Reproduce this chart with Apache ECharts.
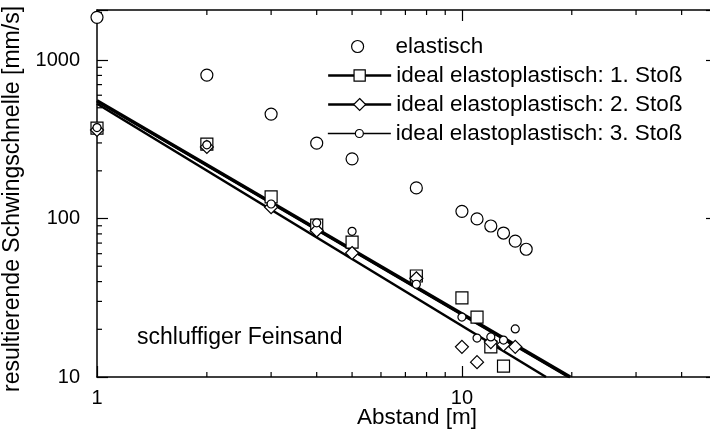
<!DOCTYPE html>
<html><head><meta charset="utf-8">
<script src="https://cdn.jsdelivr.net/npm/echarts@6/dist/echarts.min.js"></script>
<style>html,body{margin:0;padding:0;background:#fff}#c{width:710px;height:432px}</style>
</head><body><div id="c"></div>
<script>
const FONT = '"Liberation Sans", Arial, Helvetica, sans-serif';

// Measured values (Abstand [m] / resultierende Schwingschnelle [mm/s])
const xElastisch = [1, 2, 3, 4, 5, 7.5, 10, 11, 12, 13, 14, 15];
const yElastisch = [1860, 804, 456, 299, 238, 156, 111, 99.5, 89.7, 81, 72, 64];
const xStoss1 = [1, 2, 3, 4, 5, 7.5, 10, 11, 12, 13];
const yStoss1 = [372, 295, 137, 91, 71, 43.4, 31.6, 23.9, 15.5, 11.7];
const xStoss2 = [1, 2, 3, 4, 5, 7.5, 10, 11, 12, 13, 14];
const yStoss2 = [362, 283, 118, 84, 60.6, 42, 15.5, 12.4, 16.6, 16.0, 15.5];
const xStoss3 = [1, 2, 3, 4, 5, 7.5, 10, 11, 12, 13, 14];
const yStoss3 = [375, 292, 123.5, 94, 83, 38.5, 23.9, 17.6, 17.9, 17.1, 20.1];

// Regression lines (end points)
const fit1X = [1, 19.8], fit1Y = [555, 10];
const fit2X = [1, 17.0], fit2Y = [530, 10];
const fit3X = [1, 19.5], fit3Y = [545, 10];

// Axis ranges and minor tick values
const X_MIN = 1, X_MAX = 50, Y_MIN = 10, Y_MAX = 2070;
const xMinorTicks = [2, 3, 4, 5, 6, 7, 8, 9, 20, 30, 40];
const yMinorTicks = [20, 30, 40, 50, 60, 70, 80, 90, 200, 300, 400, 500, 600, 700, 800, 900, 2000];

const names = ['elastisch', 'ideal elastoplastisch: 1. Stoß', 'ideal elastoplastisch: 2. Stoß', 'ideal elastoplastisch: 3. Stoß'];

const zip = (xs, ys) => xs.map((x, i) => [x, ys[i]]);

const tickData = [];
xMinorTicks.forEach(v => { tickData.push([v, Y_MIN, 0]); tickData.push([v, Y_MAX, 1]); });
yMinorTicks.forEach(v => { tickData.push([X_MIN, v, 2]); tickData.push([X_MAX, v, 3]); });

const markerStyle = { color: '#fff', borderColor: '#000', borderWidth: 1.2, opacity: 1 };

function leg(name, left, top, w, h, lw, padLeft) {
  return {
    data: [name], left: left, top: top, padding: 0, itemGap: 0, selectedMode: false,
    itemWidth: w, itemHeight: h,
    textStyle: { fontSize: 22.5, lineHeight: 22, fontFamily: FONT, color: '#000', padding: [0, 0, 0, padLeft] },
    itemStyle: { borderWidth: 1.2, borderColor: '#000', opacity: 1 },
    lineStyle: { width: lw, color: '#000' }
  };
}

const axisCommon = {
  type: 'log', logBase: 10,
  axisLine: { show: true, lineStyle: { color: '#000', width: 1.5 } },
  axisTick: { show: true, inside: true, length: 11, lineStyle: { color: '#000', width: 1.2 } },
  splitLine: { show: false },
  minorTick: { show: false }
};
const decadeFmt = v => { const l = Math.log10(v); return Math.abs(l - Math.round(l)) < 1e-9 ? String(Math.round(v)) : ''; };

const chart = echarts.init(document.getElementById('c'), null, { renderer: 'canvas' });
chart.setOption({
  backgroundColor: '#fff',
  animation: false,
  grid: { left: 97, top: 10, width: 620, height: 367, containLabel: false, outerBoundsMode: 'none' },
  xAxis: [
    Object.assign({}, axisCommon, {
      position: 'bottom', min: X_MIN, max: X_MAX,
      name: 'Abstand [m]', nameLocation: 'middle', nameGap: 29, nameMoveOverlap: false,
      nameTextStyle: { fontSize: 22.5, fontFamily: FONT, color: '#000', padding: [0, 0, 0, 20] },
      axisLabel: { show: true, formatter: decadeFmt, fontSize: 20, fontFamily: FONT, color: '#000', margin: 11 }
    }),
    Object.assign({}, axisCommon, {
      position: 'top', min: X_MIN, max: X_MAX, axisLabel: { show: false }
    })
  ],
  yAxis: [
    Object.assign({}, axisCommon, {
      position: 'left', min: Y_MIN, max: Y_MAX,
      name: 'resultierende Schwingschnelle [mm/s]', nameLocation: 'middle', nameGap: 73, nameRotate: 90,
      nameMoveOverlap: false,
      nameTextStyle: { fontSize: 23, fontFamily: FONT, color: '#000', padding: [0, 11, 0, 0] },
      axisLabel: { show: true, formatter: decadeFmt, fontSize: 20, fontFamily: FONT, color: '#000', margin: 17 }
    }),
    Object.assign({}, axisCommon, {
      position: 'right', min: Y_MIN, max: Y_MAX, axisLabel: { show: false }
    })
  ],
  legend: [
    leg(names[0], 351, 35, 12, 12, 0, 27),
    leg(names[1], 327, 64, 63, 14, 2.3, 0),
    leg(names[2], 327, 93, 63, 15, 2.3, 0),
    leg(names[3], 327, 122, 63, 10, 1.7, 0)
  ],
  graphic: [
    { type: 'text', left: 137, top: 326, style: { text: 'schluffiger Feinsand', fontSize: 23, fontFamily: FONT, fill: '#000' } }
  ],
  series: [
    { type: 'custom', name: 'ticks', coordinateSystem: 'cartesian2d', silent: true, clip: false,
      data: tickData, encode: { x: 0, y: 1 },
      renderItem: (params, api) => {
        const p = api.coord([api.value(0), api.value(1)]);
        const side = api.value(2), len = 5;
        let x2 = p[0], y2 = p[1];
        if (side === 0) y2 -= len; else if (side === 1) y2 += len; else if (side === 2) x2 += len; else x2 -= len;
        return { type: 'line', shape: { x1: p[0], y1: p[1], x2: x2, y2: y2 }, style: { stroke: '#000', lineWidth: 1.2 } };
      }
    },
    { type: 'line', name: names[1], data: zip(fit1X, fit1Y), showSymbol: false, symbol: 'rect',
      itemStyle: markerStyle, lineStyle: { color: '#000', width: 3.2 }, z: 2 },
    { type: 'line', name: names[3], data: zip(fit3X, fit3Y), showSymbol: false, symbol: 'circle',
      itemStyle: markerStyle, lineStyle: { color: '#000', width: 1.6 }, z: 2 },
    { type: 'line', name: names[2], data: zip(fit2X, fit2Y), showSymbol: false, symbol: 'diamond',
      itemStyle: markerStyle, lineStyle: { color: '#000', width: 2.6 }, z: 2 },
    { type: 'scatter', name: 'Messwerte 1. Stoß', data: zip(xStoss1, yStoss1), symbol: 'rect', symbolSize: 12,
      itemStyle: markerStyle, z: 3 },
    { type: 'scatter', name: 'Messwerte 2. Stoß', data: zip(xStoss2, yStoss2), symbol: 'diamond', symbolSize: 13,
      itemStyle: markerStyle, z: 4 },
    { type: 'scatter', name: 'Messwerte 3. Stoß', data: zip(xStoss3, yStoss3), symbol: 'circle', symbolSize: 8,
      itemStyle: markerStyle, z: 5 },
    { type: 'scatter', name: names[0], data: zip(xElastisch, yElastisch), symbol: 'circle', symbolSize: 12,
      itemStyle: markerStyle, z: 5 }
  ]
});
</script>
</body></html>
